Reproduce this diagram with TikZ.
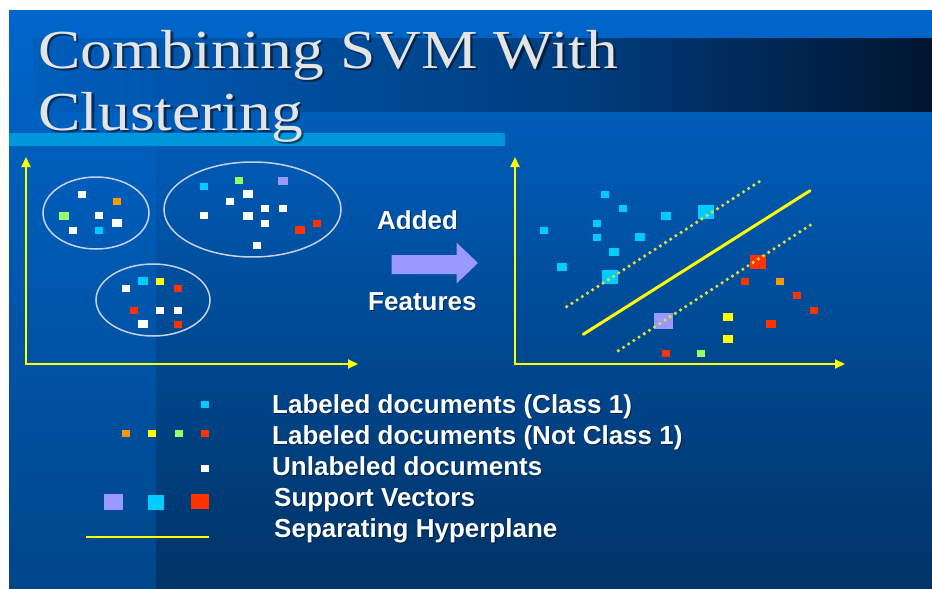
\documentclass[tikz,border=0pt]{standalone}
\usepackage{fontspec}
\setmainfont{Liberation Sans}
\newfontfamily\titlefont{Liberation Serif}
\usetikzlibrary{arrows.meta,shapes.geometric}

\definecolor{bgTop}{HTML}{0066CC}
\definecolor{bgBot}{HTML}{003366}
\definecolor{bandBot}{HTML}{00468A}
\definecolor{barA}{HTML}{005EBC}
\definecolor{barB}{HTML}{003C7C}
\definecolor{barC}{HTML}{001530}
\definecolor{stripe}{HTML}{0096DC}
\definecolor{axisc}{HTML}{FFFF00}
\definecolor{ringc}{HTML}{C8D2E6}
\definecolor{cls}{HTML}{00CCFF}
\definecolor{orng}{HTML}{FF9900}
\definecolor{grn}{HTML}{99FF66}
\definecolor{rd}{HTML}{FF3300}
\definecolor{ylw}{HTML}{FFFF00}
\definecolor{prp}{HTML}{9999FF}
\definecolor{dotc}{HTML}{E0E03C}
\definecolor{titlec}{HTML}{E4E4E4}

% dark band behind the first title line, fading to near black on the right
\pgfdeclarehorizontalshading{darkbar}{100bp}{color(0bp)=(barA); color(25bp)=(barA); color(56bp)=(barB); color(75bp)=(barC); color(100bp)=(barC)}

\begin{document}
\begin{tikzpicture}[x=1pt,y=-1pt,
  doc/.style={fill=#1, draw=none, inner sep=0pt, minimum width=8pt, minimum height=7pt},
  bigdoc/.style={doc=#1, minimum width=10pt, minimum height=8pt},
  sv/.style={doc=#1, minimum width=16pt, minimum height=14pt},
  ring/.style={draw=ringc, line width=1.5pt, ellipse, inner sep=0pt},
  axisline/.style={draw=axisc, line width=2pt, {Triangle[length=10pt,width=9pt]}-{Triangle[length=10pt,width=9pt]}},
  margin/.style={draw=dotc, line width=3.6pt, line cap=round, dash pattern=on 0pt off 6.2pt},
  hyper/.style={draw=ylw, line width=3pt, line cap=round},
  titletext/.style={font=\titlefont\fontsize{55}{55}\selectfont, anchor=base west, inner sep=0pt, xscale=1.155, text=titlec},
  titleshadow/.style={titletext, text=black, text opacity=0.5},
  labeltext/.style={font=\bfseries\fontsize{26}{26}\selectfont, anchor=base west, inner sep=0pt, text=white},
  labelshadow/.style={labeltext, text=black, text opacity=0.45}
]
\useasboundingbox (0,0) rectangle (932,589);
\fill[white] (0,0) rectangle (932,589);

% slide background
\fill[top color=bgTop, bottom color=bgBot] (9,10) rectangle (932,589);
\fill[top color=bgTop, bottom color=bandBot] (9,10) rectangle (156,589);
\fill[shading=darkbar] (33,38) rectangle (932,111);
\fill[stripe] (9,133) rectangle (505,146);

% title
\node[titleshadow] (t1s) at (40.5,70.5) {Combining SVM With};
\node[titleshadow] (t2s) at (40.5,132.5) {Clustering};
\node[titletext] (t1) at (38,68) {Combining SVM With};
\node[titletext] (t2) at (38,130) {Clustering};

% ---------- left plot: clusters ----------
\coordinate (lo) at (26,364);
\coordinate (ly) at (26,157);
\coordinate (lx) at (358,364);
\draw[axisline] (ly) -- (lo) -- (lx);

\node[ring, minimum width=106pt, minimum height=72pt] (c1) at (96,213) {};
\node[ring, minimum width=177pt, minimum height=95pt] (c2) at (252.5,209.5) {};
\node[ring, minimum width=114pt, minimum height=72pt] (c3) at (153,300) {};

% cluster 1
\node[doc=white] (a1) at (81.7,194) {};
\node[doc=orng] (a2) at (116.7,201.7) {};
\node[bigdoc=grn] (a3) at (64.3,215.7) {};
\node[doc=white] (a4) at (99.3,215.7) {};
\node[bigdoc=white] (a5) at (116.7,223) {};
\node[doc=white] (a6) at (73.3,230) {};
\node[doc=cls] (a7) at (99.3,230) {};
% cluster 2
\node[doc=cls] (b1) at (204.3,186.7) {};
\node[doc=grn] (b2) at (238.7,180) {};
\node[bigdoc=prp] (b3) at (283.3,180.7) {};
\node[bigdoc=white] (b4) at (247.7,194) {};
\node[doc=white] (b5) at (230,201.7) {};
\node[doc=white] (b6) at (264.7,208.3) {};
\node[doc=white] (b7) at (282.7,208.3) {};
\node[doc=white] (b8) at (204.3,215.7) {};
\node[bigdoc=white] (b9) at (247.7,215.7) {};
\node[doc=white] (b10) at (264.7,223) {};
\node[bigdoc=rd] (b11) at (300,230) {};
\node[doc=rd] (b12) at (317.3,223) {};
\node[doc=white] (b13) at (256.7,245) {};
% cluster 3
\node[bigdoc=cls] (d1) at (143,281) {};
\node[doc=ylw] (d2) at (160.3,281) {};
\node[doc=white] (d3) at (125.7,288.3) {};
\node[doc=rd] (d4) at (178.3,288.3) {};
\node[doc=rd] (d5) at (134,310) {};
\node[doc=white] (d6) at (160.3,310) {};
\node[doc=white] (d7) at (178.3,310) {};
\node[bigdoc=white] (d8) at (143,324) {};
\node[doc=rd] (d9) at (178.3,324) {};

% ---------- middle arrow ----------
\node[labelshadow] (adds) at (378,230) {Added};
\node[labeltext] (add) at (377,229) {Added};
\fill[prp] (391.7,255) -- (456.7,255) -- (456.7,242.7) -- (478,263)
  -- (456.7,283.3) -- (456.7,274) -- (391.7,274) -- cycle;
\node[labelshadow] (feas) at (369,311) {Features};
\node[labeltext] (fea) at (368,310) {Features};

% ---------- right plot: separating hyperplane ----------
\coordinate (ro) at (515,364);
\coordinate (ry) at (515,157);
\coordinate (rx) at (845,364);
\draw[axisline] (ry) -- (ro) -- (rx);

\coordinate (m1a) at (566.7,306.7);
\coordinate (m1b) at (763.3,179);
\coordinate (h1) at (583.3,334.3);
\coordinate (h2) at (810,190.7);
\coordinate (m2a) at (618.3,350.7);
\coordinate (m2b) at (815,222);

% class 1
\node[doc=cls] (p1) at (605,194) {};
\node[doc=cls] (p2) at (623,208.3) {};
\node[bigdoc=cls] (p3) at (666.3,215.7) {};
\node[doc=cls] (p4) at (596.7,223) {};
\node[doc=cls] (p5) at (544.3,230) {};
\node[doc=cls] (p6) at (596.7,237.3) {};
\node[bigdoc=cls] (p7) at (640,237.3) {};
\node[bigdoc=cls] (p8) at (614,251.7) {};
\node[bigdoc=cls] (p9) at (561.7,266.7) {};
% not class 1
\node[doc=rd] (q1) at (744.7,281) {};
\node[doc=orng] (q2) at (780,281) {};
\node[doc=rd] (q3) at (797,295) {};
\node[doc=rd] (q4) at (814.3,310) {};
\node[bigdoc=rd] (q5) at (771,324) {};
\node[doc=rd] (q6) at (666.3,353.3) {};
\node[doc=grn] (q7) at (701.3,353.3) {};
\node[bigdoc=ylw] (q8) at (728.3,317.3) {};
\node[bigdoc=ylw] (q9) at (728.3,339) {};
% support vectors
\node[sv=cls] (s1) at (705.7,212.3) {};
\node[sv=cls] (s2) at (610,277.3) {};
\node[sv=rd] (s3) at (758,262.3) {};
\node[sv=prp, minimum width=19pt, minimum height=16pt] (s4) at (663,321.3) {};

\draw[margin] (m1a) -- (m1b);
\draw[margin] (m2a) -- (m2b);
\draw[hyper] (h1) -- (h2);

% ---------- legend ----------
\node[doc=cls] (k1) at (204.5,404) {};
\node[doc=orng] (k2) at (125.6,433.5) {};
\node[doc=ylw] (k3) at (152,433.5) {};
\node[doc=grn] (k4) at (178.5,433.5) {};
\node[doc=rd] (k5) at (204.5,433.5) {};
\node[doc=white] (k6) at (204.5,468) {};
\node[doc=prp, minimum width=19pt, minimum height=16pt] (k7) at (113.5,502) {};
\node[doc=cls, minimum width=16pt, minimum height=15pt] (k8) at (156,502) {};
\node[doc=rd, minimum width=18pt, minimum height=15pt] (k9) at (199.6,501.5) {};
\coordinate (ka) at (86,537);
\coordinate (kb) at (208.5,537);
\draw[draw=ylw, line width=2.5pt] (ka) -- (kb);

\node[labelshadow] (l1s) at (273,414) {Labeled documents (Class 1)};
\node[labelshadow] (l2s) at (273,445) {Labeled documents (Not Class 1)};
\node[labelshadow] (l3s) at (273,476) {Unlabeled documents};
\node[labelshadow] (l4s) at (275,507) {Support Vectors};
\node[labelshadow] (l5s) at (275,538) {Separating Hyperplane};
\node[labeltext] (l1) at (272,413) {Labeled documents (Class 1)};
\node[labeltext] (l2) at (272,444) {Labeled documents (Not Class 1)};
\node[labeltext] (l3) at (272,475) {Unlabeled documents};
\node[labeltext] (l4) at (274,506) {Support Vectors};
\node[labeltext] (l5) at (274,537) {Separating Hyperplane};
\end{tikzpicture}
\end{document}
